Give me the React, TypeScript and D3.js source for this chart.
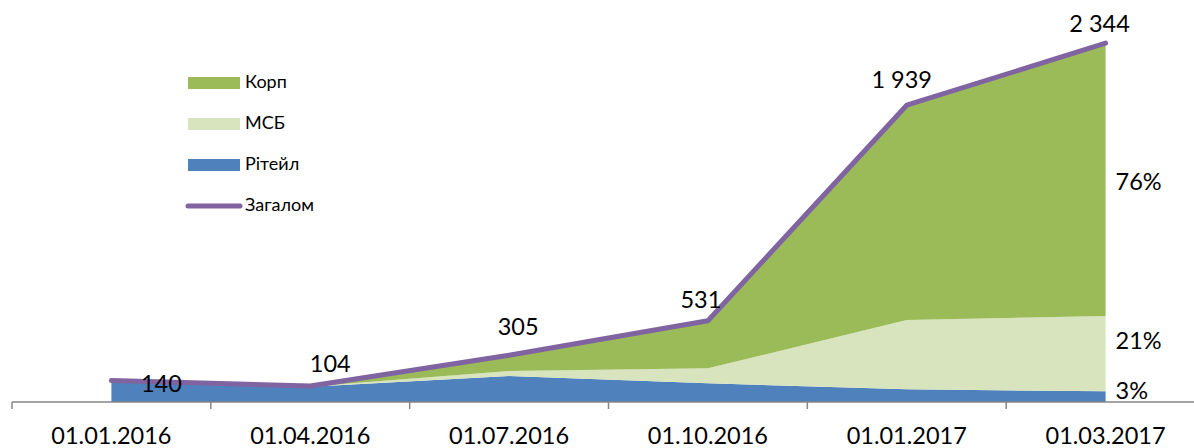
import React from "react";
import * as d3 from "d3";

// data
const categories = ["01.01.2016", "01.04.2016", "01.07.2016", "01.10.2016", "01.01.2017", "01.03.2017"];
const retail = [140, 100, 170, 122, 83, 70];
const msb = [0, 2, 33, 98, 453, 492];
const korp = [0, 2, 102, 311, 1403, 1782];

const seriesNames = ["Рітейл", "МСБ", "Корп"];
const seriesColors = ["#4F81BD", "#D7E4BD", "#9BBB59"];
const lineName = "Загалом";
const lineColor = "#8064A2";

// manual label nudges (like the hand-placed excel labels)
const labelNudge = [
  [50, 11],
  [20, -14],
  [9, -20],
  [-7, -13],
  [-5, -17],
  [-6, -11],
];
// share labels: retail, msb, korp
const pctNudge = [1, -11, 4];

const W = 1194;
const H = 448;
const FONT = "Lato, 'Open Sans', sans-serif";

export default function App() {
  const rows = categories.map((c, i) => ({ cat: c, r: retail[i], m: msb[i], k: korp[i] }));
  const totals = rows.map((d) => d.r + d.m + d.k);

  const x = d3.scaleBand().domain(categories).range([12, 1205]).padding(0);
  const cx = (c: string) => (x(c) as number) + x.bandwidth() / 2;
  const y = d3.scaleLinear().domain([0, 2600]).range([402, 4]);

  const stack = d3.stack<any>().keys(["r", "m", "k"]);
  const layers = stack(rows);

  const area = d3
    .area<any>()
    .x((d) => cx(d.data.cat))
    .y0((d) => y(d[0]))
    .y1((d) => y(d[1]));

  const line = d3
    .line<number>()
    .x((_, i) => cx(categories[i]))
    .y((d) => y(d));

  const fmt = (v: number) => d3.format(",")(v).replace(/,/g, " ");

  const lastI = categories.length - 1;
  const lastX = cx(categories[lastI]);
  const pct = layers.map((l) => {
    const d = l[lastI];
    return {
      text: Math.round(((d[1] - d[0]) / totals[lastI]) * 100) + "%",
      mid: Math.min((y(d[0]) + y(d[1])) / 2, 392),
    };
  });

  const legendItems = [
    { name: seriesNames[2], color: seriesColors[2] },
    { name: seriesNames[1], color: seriesColors[1] },
    { name: seriesNames[0], color: seriesColors[0] },
  ];

  return (
    <div style={{ position: "absolute", left: 0, top: 0 }}>
      <svg width={W} height={H} style={{ display: "block", fontFamily: FONT }}>
        <rect width={W} height={H} fill="#fff" />

        {/* areas */}
        {layers.map((l, i) => (
          <path key={i} d={area(l) || ""} fill={seriesColors[i]} />
        ))}

        {/* total line */}
        <path
          d={line(totals) || ""}
          fill="none"
          stroke={lineColor}
          strokeWidth={5}
          strokeLinecap="round"
          strokeLinejoin="round"
        />

        {/* x axis */}
        <line x1={12} x2={W} y1={402} y2={402} stroke="#868686" strokeWidth={1.5} />
        {categories.map((c) => (
          <line key={"t" + c} x1={x(c)} x2={x(c)} y1={402} y2={409} stroke="#868686" strokeWidth={1.5} />
        ))}
        {categories.map((c) => (
          <text key={"l" + c} x={cx(c)} y={444} textAnchor="middle" fontSize={23.5} fill="#000">
            {c}
          </text>
        ))}

        {/* value labels */}
        {totals.map((v, i) => (
          <text
            key={"v" + i}
            x={cx(categories[i]) + labelNudge[i][0]}
            y={y(v) + labelNudge[i][1]}
            textAnchor="middle"
            fontSize={23.5}
            fill="#000"
          >
            {fmt(v)}
          </text>
        ))}

        {/* share labels */}
        {pct.map((p, i) => (
          <text
            key={"p" + i}
            x={lastX + 10}
            y={p.mid + pctNudge[i]}
            dominantBaseline="middle"
            fontSize={23.5}
            fill="#000"
          >
            {p.text}
          </text>
        ))}

        {/* legend */}
        {legendItems.map((it, i) => (
          <g key={"lg" + i} transform={`translate(188,${83 + i * 41})`}>
            <rect x={0} y={-6} width={52} height={12} fill={it.color} />
            <text x={57} y={0} dominantBaseline="middle" fontSize={18} fill="#000">
              {it.name}
            </text>
          </g>
        ))}
        <g transform={`translate(188,${83 + 3 * 41})`}>
          <line x1={0} x2={52} y1={0} y2={0} stroke={lineColor} strokeWidth={5} strokeLinecap="round" />
          <text x={57} y={0} dominantBaseline="middle" fontSize={18} fill="#000">
            {lineName}
          </text>
        </g>
      </svg>
    </div>
  );
}
